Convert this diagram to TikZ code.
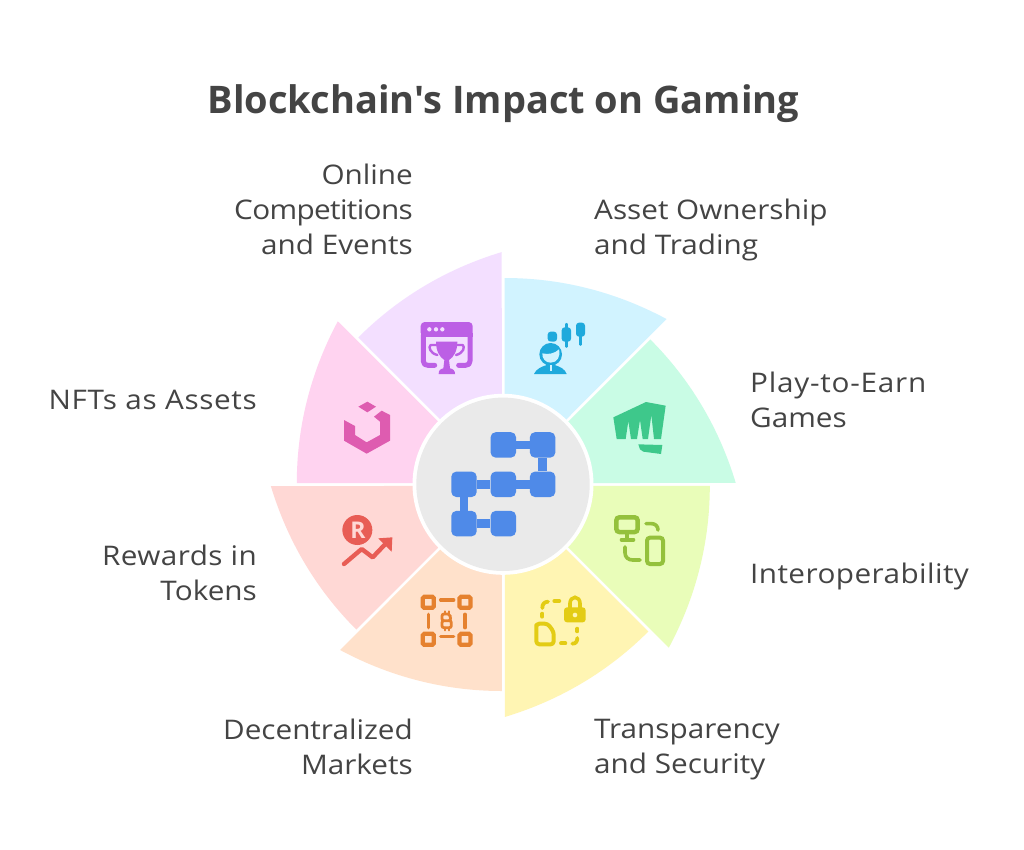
\documentclass[tikz,border=0pt]{standalone}
\usepackage{fontspec}
\setmainfont{Open Sans}[FakeStretch=1.10]
\newfontfamily\titlefont{Open Sans}
\definecolor{ink}{HTML}{444444}
\definecolor{wblue}{HTML}{D1F3FF}\definecolor{iblue}{HTML}{1FA9DC}
\definecolor{wgreen}{HTML}{C9FCE5}\definecolor{igreen}{HTML}{3EC88B}
\definecolor{wlime}{HTML}{E9FDB9}\definecolor{ilime}{HTML}{94C13C}
\definecolor{wyellow}{HTML}{FFF5B3}\definecolor{iyellow}{HTML}{E3CC14}
\definecolor{worange}{HTML}{FFE1CB}\definecolor{iorange}{HTML}{E5812F}
\definecolor{wred}{HTML}{FFD8D5}\definecolor{ired}{HTML}{E85D55}
\definecolor{wpink}{HTML}{FFD3F0}\definecolor{ipink}{HTML}{DE5CB0}
\definecolor{wpurple}{HTML}{F3DFFF}\definecolor{ipurple}{HTML}{BC5FE5}
\definecolor{hubgray}{HTML}{EAEAEA}\definecolor{blockblue}{HTML}{4F8AE8}
\tikzset{
  lab/.style={inner sep=0pt,text=ink,font=\fontsize{27}{35}\selectfont},
  labl/.style={lab,align=left,anchor=north west},
  labr/.style={lab,align=right,anchor=north east},
  block/.style={fill=blockblue,rounded corners=5pt,minimum size=25.4pt,inner sep=0pt},
  chain/.style={draw=blockblue,line width=8.6pt},
  crop/.style={x=0.33333pt,y=-0.33333pt},
  stroke/.style={line cap=round,line join=round,fill=none},
}
\newcommand{\wedgeat}[2]{%
  \begin{scope}[shift={(503.3,484.5)},rotate=#1]
    \fill[#2] (1.4,-40) -- (1.4,-206.5) .. controls (55,-206.5) and (110,-194) .. (163.2,-165.5) -- (39,-41) -- cycle;
  \end{scope}}
\newcommand{\track}[2]{{\addfontfeature{LetterSpace=#1}#2}}
\begin{document}
\begin{tikzpicture}[x=1pt,y=-1pt]
\useasboundingbox (0,0) rectangle (1024,849);
\fill[white] (0,0) rectangle (1024,849);
\wedgeat{0}{wblue}
\wedgeat{-45}{wgreen}
\wedgeat{-90}{wlime}
\wedgeat{-135}{wyellow}
\wedgeat{-180}{worange}
\wedgeat{-225}{wred}
\wedgeat{-270}{wpink}
\wedgeat{-315}{wpurple}
\fill[white] (503,484.3) circle[radius=90.5];
\fill[hubgray] (503,484.3) circle[radius=86.7];
% hub
\node[block] (b1) at (503.3,444.9) {};
\node[block] (b2) at (542.6,444.9) {};
\node[block] (b3) at (464,484.3) {};
\node[block] (b4) at (503.3,484.3) {};
\node[block] (b5) at (542.6,484.3) {};
\node[block] (b6) at (464,523.6) {};
\node[block] (b7) at (503.3,523.6) {};
\draw[chain] (b1)--(b2) (b2)--(b5) (b5)--(b4) (b4)--(b3) (b3)--(b6) (b6)--(b7);
% trophy
\begin{scope}[shift={(400,300)},crop]
 \fill[ipurple,rounded corners=4pt] (62,110)--(62,66)--(218,66)--(218,110)--cycle;
 \fill[ipurple] (62,100) rectangle (218,110);
 \draw[ipurple,stroke,line width=5pt] (70,105)--(70,183) .. controls (70,192) and (75,196) .. (84,196)--(104,196);
 \draw[ipurple,stroke,line width=5pt] (210,105)--(210,183) .. controls (210,192) and (205,196) .. (196,196)--(176,196);
 \foreach \dx in {88,108,127}{\fill[wpurple] (\dx,88) circle[radius=6.5];}
 \fill[ipurple] (108,125)--(172,125) .. controls (172,155) and (160,172) .. (147,180)--(150,205) .. controls (160,207) and (165,212) .. (165,222)--(116,222) .. controls (116,212) and (120,207) .. (130,205)--(133,180) .. controls (120,172) and (108,155) .. (108,125)--cycle;
 \draw[ipurple,stroke,line width=2.4pt] (108,135)--(92,135) .. controls (84,140) and (90,160) .. (112,165);
 \draw[ipurple,stroke,line width=2.4pt] (172,135)--(188,135) .. controls (196,140) and (190,160) .. (168,165);
\end{scope}
% person
\begin{scope}[shift={(400,300)},crop]
 \fill[iblue,rounded corners=3pt] (443,95) rectangle (471,125);
 \fill[wblue] (452,163) circle[radius=38];
 \fill[iblue] (452,163) circle[radius=34];
 \fill[wblue] (427,160) .. controls (445,165) and (465,160) .. (477,148) .. controls (482,170) and (472,188) .. (452,188) .. controls (436,188) and (426,175) .. (427,160)--cycle;
 \fill[iblue] (402,222) .. controls (408,207) and (425,200) .. (440,195)--(464,195) .. controls (480,200) and (495,207) .. (500,222)--cycle;
 \fill[wblue] (449,195) rectangle (455,214);
 \fill[iblue,rounded corners=3pt] (485,82) rectangle (513,125);
 \draw[iblue,stroke,line width=2.4pt] (499,72)--(499,140);
 \fill[iblue,rounded corners=3pt] (528,68) rectangle (555,110);
 \draw[iblue,stroke,line width=2.4pt] (541,100)--(541,134);
\end{scope}
% fist
\begin{scope}[shift={(590,390)},crop]
 \fill[igreen] (70,82)--(168,36)--(227,47)--(213,147)--(192,147)--(184,75)--(174,147)--(158,147)--(150,90)--(141,147)--(123,147)--(115,93)--(107,147)--(80,147)--cycle;
 \fill[igreen] (145,163)--(217,165)--(213,192)--(160,185)--(150,178)--cycle;
\end{scope}
% interoperability
\begin{scope}[shift={(590,390)},crop]
 \draw[ilime,line width=4.5pt,rounded corners=3pt] (79,382) rectangle (143,426);
 \draw[ilime,line width=4pt] (110,426)--(110,449);
 \draw[ilime,stroke,line width=4pt] (95,449)--(130,449);
 \draw[ilime,stroke,line width=3.6pt] (168,401)--(185,401) .. controls (195,401) and (204,408) .. (204,420);
 \draw[ilime,stroke,line width=3.6pt] (105,471)--(105,488) .. controls (105,502) and (115,510) .. (128,510)--(150,510);
 \draw[ilime,line width=4pt,rounded corners=3pt] (171,443) rectangle (219,522);
\end{scope}
% security
\begin{scope}[shift={(410,580)},crop]
 \fill[iyellow,rounded corners=3pt] (462,82) rectangle (527,127);
 \draw[iyellow,line width=3.6pt] (480,85)--(480,70) arc[start angle=180,end angle=0,x radius=15,y radius=-18]--(510,85);
 \fill[wyellow] (495,105) circle[radius=7];
 \draw[iyellow,stroke,line width=4pt,rounded corners=3pt] (379,135) -- (379,193) -- (431,193) -- (431,155) -- (413,131) -- (379,131) -- (379,150);
 \draw[iyellow,stroke,line width=3.8pt] (397,84) .. controls (397,72) and (402,66) .. (414,65);
 \draw[iyellow,stroke,line width=3.8pt] (433,63)--(448,63);
 \draw[iyellow,stroke,line width=3.8pt] (397,101)--(397,110);
 \draw[iyellow,stroke,line width=3.8pt] (453,190)--(466,190);
 \draw[iyellow,stroke,line width=3.8pt] (502,146)--(502,154);
 \draw[iyellow,stroke,line width=3.8pt] (487,191) .. controls (497,191) and (502,185) .. (502,174);
\end{scope}
% markets
\begin{scope}[shift={(410,580)},crop]
 \foreach \cx/\cy in {55/67,165/67,55/178,165/178}{
   \draw[iorange,line width=4.3pt,rounded corners=1.5pt] (\cx-16.5,\cy-16.5) rectangle (\cx+16.5,\cy+16.5);}
 \draw[iorange,stroke,line width=3.4pt] (92,60)--(131,60) (92,170)--(131,170) (55,103)--(55,143) (165,103)--(165,143);
 \draw[iorange,line width=2.8pt,rounded corners=2pt] (96,102)--(120,102)--(122,122)--(96,122)--cycle (96,122)--(124,122)--(124,143)--(96,143)--cycle;
 \draw[iorange,stroke,line width=2.2pt] (104,94)--(104,102) (117,94)--(117,102) (104,143)--(104,151) (117,143)--(117,151);
\end{scope}
% rewards
\begin{scope}[shift={(320,390)},crop]
 \fill[ired] (112,420) circle[radius=45];
 \node[inner sep=0pt,text=wred,font=\titlefont\fontsize{23}{23}\selectfont\bfseries] (rsym) at (114,421) {R};
 \draw[ired,stroke,line width=4.4pt] (72,522)--(125,477)--(158,502)--(200,458);
 \fill[ired] (175,445)--(217,442)--(215,485)--cycle;
\end{scope}
% nft
\begin{scope}[shift={(320,390)},crop]
 \fill[ipink] (72,90)--(105,108)--(105,135)--(140,157)--(180,135)--(180,95)--(162,80)--(185,62)--(210,75)--(210,152)--(140,191)--(72,152)--cycle;
 \fill[ipink] (142,35)--(168,50)--(142,67)--(115,50)--cycle;
\end{scope}
% title
\node[inner sep=0pt,text=ink,font=\titlefont\fontsize{38}{38}\selectfont\bfseries] (title) at (503.5,104) {Blockchain's Impact on Gaming};
% labels
\node[labr] (l1) at (413,163.5) {Online\\\track{-2.3}{Competitions}\\and Events};
\node[labl] (l2) at (594,198.5) {Asset Ownership\\and Trading};
\node[labl] (l3) at (750,371.5) {\track{2.8}{Play-to-Earn}\\Games};
\node[labl] (l4) at (750,562.5) {\track{1.6}{Interoperability}};
\node[labl] (l5) at (594,719.5) {Transparency\\and Security};
\node[labr] (l6) at (413,718.5) {Decentralized\\Markets};
\node[labr] (l7) at (257,544.5) {\track{1.5}{Rewards in}\\Tokens};
\node[labr] (l8) at (257,389.5) {\track{2.4}{NFTs as Assets}};
\end{tikzpicture}
\end{document}
